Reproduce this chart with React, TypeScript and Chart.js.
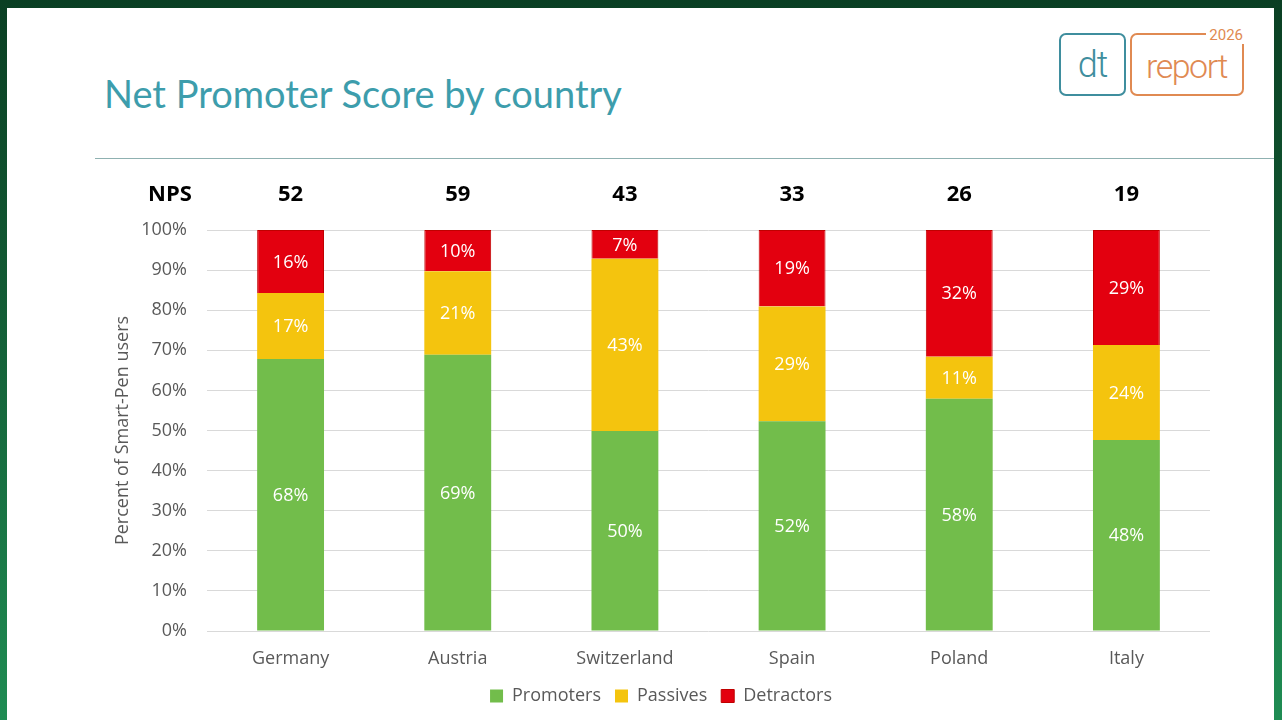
import React, { useEffect, useRef } from "react";
import { Chart, registerables } from "chart.js";

Chart.register(...registerables);

const categories = ["Germany", "Austria", "Switzerland", "Spain", "Poland", "Italy"];
const promoters = [67.8, 68.9, 49.9, 52.3, 57.9, 47.6];
const passives = [16.5, 20.8, 42.9, 28.6, 10.5, 23.7];
const detractors = [15.7, 10.3, 7.2, 19.1, 31.6, 28.7];
const npsScores = [52, 59, 43, 33, 26, 19];
const seriesNames = ["Promoters", "Passives", "Detractors"];
const seriesColors = ["#72bd4b", "#f4c40e", "#e3000f"];
const seriesBorders = ["#72bd4b", "#f4c40e", "#c00000"];

const TICK_FONT = "'Open Sans', 'DejaVu Sans', sans-serif";

const labelsPlugin = {
  id: "segLabels",
  afterDatasetsDraw(chart: any) {
    const { ctx } = chart;
    ctx.save();
    ctx.font = `18px ${TICK_FONT}`;
    ctx.fillStyle = "#ffffff";
    ctx.textAlign = "center";
    ctx.textBaseline = "middle";
    chart.data.datasets.forEach((ds: any, di: number) => {
      const meta = chart.getDatasetMeta(di);
      meta.data.forEach((bar: any, i: number) => {
        const v = ds.data[i];
        const cy = (bar.y + bar.base) / 2;
        ctx.fillText(Math.round(v) + "%", bar.x, cy + 1);
      });
    });
    ctx.restore();
  },
};

const npsPlugin = {
  id: "npsRow",
  afterDraw(chart: any) {
    const { ctx, chartArea } = chart;
    const xScale = chart.scales.x;
    const y = chartArea.top - 35;
    ctx.save();
    ctx.font = `bold 22px ${TICK_FONT}`;
    ctx.fillStyle = "#000000";
    ctx.textAlign = "center";
    ctx.textBaseline = "middle";
    ctx.fillText("NPS", 170, y);
    npsScores.forEach((s, i) => {
      ctx.fillText(String(s), xScale.getPixelForValue(i), y);
    });
    ctx.restore();
  },
};

function NpsChart() {
  const ref = useRef<HTMLCanvasElement | null>(null);
  useEffect(() => {
    if (!ref.current) return;
    const data = [promoters, passives, detractors];
    const chart = new Chart(ref.current, {
      type: "bar",
      data: {
        labels: categories,
        datasets: data.map((d, i) => ({
          label: seriesNames[i],
          data: d,
          backgroundColor: seriesColors[i],
          borderColor: seriesBorders[i],
          borderWidth: i === 2 ? 1 : 0,
          barPercentage: 0.4,
          categoryPercentage: 1,
        })),
      },
      options: {
        responsive: false,
        animation: false,
        devicePixelRatio: 1,
        layout: { padding: { left: 112, right: 72, top: 70, bottom: 1 } },
        plugins: {
          legend: {
            position: "bottom",
            labels: {
              font: { size: 18, family: TICK_FONT },
              color: "#595959",
              boxWidth: 13,
              boxHeight: 13,
              padding: 14,
            },
          },
          tooltip: { enabled: false },
        },
        scales: {
          x: {
            stacked: true,
            grid: { display: false },
            border: { display: false },
            ticks: { font: { size: 18, family: TICK_FONT }, color: "#595959", padding: 9 },
            afterFit(scale: any) {
              scale.height = 42;
            },
          },
          y: {
            stacked: true,
            min: 0,
            max: 100,
            grid: { color: "#d9d9d9", drawTicks: false, lineWidth: 1 },
            border: { display: false },
            ticks: {
              stepSize: 10,
              font: { size: 18, family: TICK_FONT },
              color: "#595959",
              padding: 20,
              callback: (v: any) => v + "%",
            },
            title: {
              display: true,
              text: "Percent of Smart-Pen users",
              font: { size: 18, family: TICK_FONT },
              color: "#595959",
              padding: { top: 0, bottom: 0 },
            },
            afterFit(scale: any) {
              scale.width = 95;
            },
          },
        },
      },
      plugins: [labelsPlugin, npsPlugin],
    });
    return () => chart.destroy();
  }, []);
  return (
    <canvas
      ref={ref}
      width={1282}
      height={556}
      style={{ position: "absolute", left: 0, top: 160, width: 1282, height: 556 }}
    />
  );
}

export default function App() {
  return (
    <div
      style={{
        position: "fixed",
        left: 0,
        top: 0,
        width: 1282,
        height: 720,
        background: "linear-gradient(to bottom, #0a3f23 0%, #125a34 40%, #1f8c53 100%)",
        overflow: "hidden",
      }}
    >
      <div
        style={{
          position: "absolute",
          left: 7,
          top: 8,
          width: 1267,
          height: 712,
          background: "#ffffff",
        }}
      />
      <div
        style={{
          position: "absolute",
          left: 0,
          top: 0,
          width: 1282,
          height: 720,
        }}
      >
        <div
          style={{
            position: "absolute",
            left: 104,
            top: 70,
            fontFamily: "Lato, 'Open Sans', sans-serif",
            fontSize: 38,
            lineHeight: "46px",
            color: "#3d9dac",
            whiteSpace: "nowrap",
          }}
        >
          Net Promoter Score by country
        </div>
        <div
          style={{
            position: "absolute",
            left: 95,
            top: 158,
            width: 1179,
            height: 1,
            background: "#8fb1b1",
          }}
        />
        <div
          style={{
            position: "absolute",
            left: 1059,
            top: 33,
            width: 63,
            height: 59,
            border: "2.5px solid #3f8e9e",
            borderRadius: 7,
            color: "#3f8e9e",
            fontFamily: "Roboto, 'Open Sans', sans-serif",
            fontWeight: 300,
            fontSize: 36,
            lineHeight: "60px",
            textAlign: "center",
            letterSpacing: -1,
          }}
        >
          dt
        </div>
        <div
          style={{
            position: "absolute",
            left: 1130,
            top: 33,
            height: 59,
            border: "2.5px solid #e08a52",
            borderRadius: 7,
            color: "#e08a52",
            fontFamily: "Roboto, 'Open Sans', sans-serif",
            fontWeight: 300,
            fontSize: 34,
            lineHeight: "62px",
            paddingLeft: 14,
            boxSizing: "content-box",
            width: 96,
            letterSpacing: -1.5,
          }}
        >
          report
          <span
            style={{
              position: "absolute",
              right: -3,
              top: -9,
              background: "#ffffff",
              padding: "0 2px 0 3px",
              fontSize: 15,
              lineHeight: "18px",
              fontWeight: 400,
              letterSpacing: 0,
            }}
          >
            2026
          </span>
        </div>
        <NpsChart />
      </div>
    </div>
  );
}
